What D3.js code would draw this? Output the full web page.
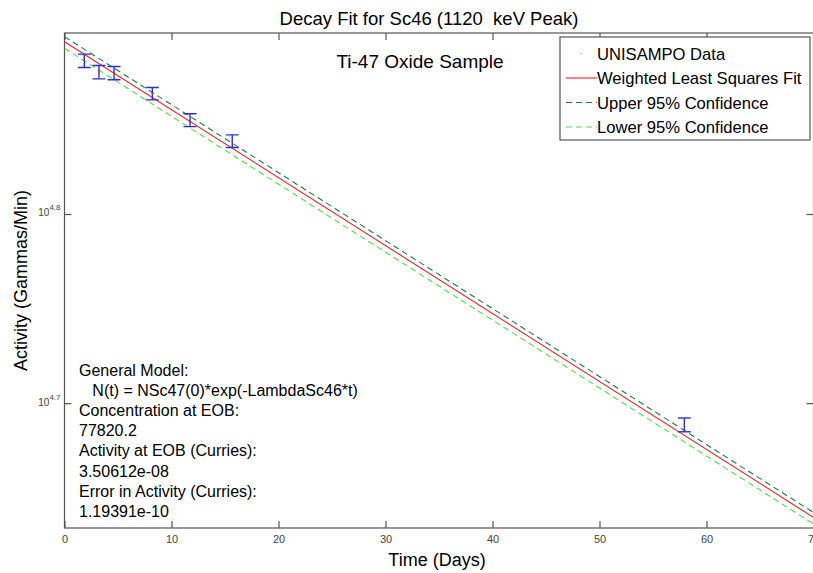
<!DOCTYPE html>
<html>
<head>
<meta charset="utf-8">
<script src="https://cdn.jsdelivr.net/npm/d3@7"></script>
<style>
  body { margin: 0; background: #fff; }
  svg text { font-family: "Liberation Sans", Arial, sans-serif; }
</style>
</head>
<body>
<svg id="chart"></svg>
<script>
//////////
// Data //
//////////
const timeDays = [1.85, 3.22, 4.63, 8.21, 11.73, 15.68, 57.93];
const activity = [76030, 74990, 74900, 73050, 70730, 68945, 48810];
const activityErr = [620, 610, 605, 550, 550, 535, 410];

// fit and 95% bounds, read at the ends of the time range
const fitTimes = [0, 70];
const fitValues = [77820, 43610];
const upperValues = [78300, 43870];
const lowerValues = [77205, 43265];

const xTicks = [0, 10, 20, 30, 40, 50, 60, 70];
const yTickExps = [4.7, 4.8];
const yLimits = [43050, 78650];

const legendLabels = [
  "UNISAMPO Data",
  "Weighted Least Squares Fit",
  "Upper 95% Confidence",
  "Lower 95% Confidence",
];
const noteLines = [
  "General Model:",
  "   N(t) = NSc47(0)*exp(-LambdaSc46*t)",
  "Concentration at EOB:",
  "77820.2",
  "Activity at EOB (Curries):",
  "3.50612e-08",
  "Error in Activity (Curries):",
  "1.19391e-10",
];

//////////////////////////
// Chart specifications //
//////////////////////////
const W = 813, H = 573;
const margin = { top: 33, right: -0.5, bottom: 45, left: 64.5 };

const colRed = "#e8232b",
  colDark = "#1f7a45",
  colLime = "#55dd4a",
  colBlue = "#2f2fcf",
  colAxis = "#555";

const svg = d3.select("#chart").attr("width", W).attr("height", H);

const x = d3
  .scaleLinear()
  .domain([0, 70])
  .range([margin.left, W - margin.right]);
const y = d3
  .scaleLog()
  .domain(yLimits)
  .range([H - margin.bottom, margin.top]);

const x0 = x.range()[0], x1 = x.range()[1];
const y0 = y.range()[0], y1 = y.range()[1];

// axes box
svg.append("rect")
  .attr("x", x0).attr("y", y1)
  .attr("width", x1 - x0).attr("height", y0 - y1)
  .attr("fill", "none").attr("stroke", colAxis).attr("stroke-width", 1.2);

// x ticks (bottom + top, pointing inward)
const xAxis = svg.append("g").attr("transform", `translate(0,${y0})`)
  .call(d3.axisBottom(x).tickValues(xTicks).tickSize(-7).tickPadding(7).tickFormat(d3.format("d")));
svg.append("g").attr("transform", `translate(0,${y1})`)
  .call(d3.axisTop(x).tickValues(xTicks).tickSize(-7).tickFormat(""))
  .call((g) => g.select(".domain").remove());

// y ticks (left + right, pointing inward)
const yTickVals = yTickExps.map((e) => Math.pow(10, e));
const yAxis = svg.append("g").attr("transform", `translate(${x0},0)`)
  .call(d3.axisLeft(y).tickValues(yTickVals).tickSize(-7).tickPadding(5).tickFormat(""));
svg.append("g").attr("transform", `translate(${x1},0)`)
  .call(d3.axisRight(y).tickValues(yTickVals).tickSize(-7).tickFormat(""))
  .call((g) => g.select(".domain").remove());

[xAxis, yAxis].forEach((g) => g.select(".domain").remove());
svg.selectAll(".tick line").attr("stroke", colAxis).attr("stroke-width", 1.2);
xAxis.selectAll(".tick text")
  .attr("font-size", 11).attr("fill", "#444")
  .attr("font-family", "Liberation Sans, Arial, sans-serif");

// y tick labels as 10^exp
yAxis.selectAll(".tick").each(function (d, i) {
  const t = d3.select(this).append("text")
    .attr("x", -4).attr("y", 2)
    .attr("text-anchor", "end")
    .attr("fill", "#444")
    .attr("font-size", 10);
  t.append("tspan").text("10");
  t.append("tspan").attr("dy", -6).attr("font-size", 8).text(yTickExps[i]);
});

// clip to plot area
svg.append("clipPath").attr("id", "plotClip")
  .append("rect").attr("x", x0).attr("y", y1)
  .attr("width", x1 - x0).attr("height", y0 - y1);
const plot = svg.append("g").attr("clip-path", "url(#plotClip)");

const line = d3.line().x((d) => x(d[0])).y((d) => y(d[1]));
const series = [
  { vals: upperValues, color: colDark, dash: "6,4" },
  { vals: lowerValues, color: colLime, dash: "6,4" },
  { vals: fitValues, color: colRed, dash: null },
];
series.forEach((s) => {
  plot.append("path")
    .datum(fitTimes.map((t, i) => [t, s.vals[i]]))
    .attr("d", line)
    .attr("fill", "none")
    .attr("stroke", s.color)
    .attr("stroke-width", 1.1)
    .attr("stroke-dasharray", s.dash);
});

// error bars
const capHalf = 6.5;
const bars = plot.append("g").attr("stroke", colBlue).attr("stroke-width", 1.4)
  .selectAll("g").data(timeDays).join("g");
bars.append("line")
  .attr("x1", (d) => x(d)).attr("x2", (d) => x(d))
  .attr("y1", (d, i) => y(activity[i] + activityErr[i]))
  .attr("y2", (d, i) => y(activity[i] - activityErr[i]));
bars.append("line")
  .attr("x1", (d) => x(d) - capHalf).attr("x2", (d) => x(d) + capHalf)
  .attr("y1", (d, i) => y(activity[i] + activityErr[i]))
  .attr("y2", (d, i) => y(activity[i] + activityErr[i]));
bars.append("line")
  .attr("x1", (d) => x(d) - capHalf).attr("x2", (d) => x(d) + capHalf)
  .attr("y1", (d, i) => y(activity[i] - activityErr[i]))
  .attr("y2", (d, i) => y(activity[i] - activityErr[i]));
plot.append("g").selectAll("circle").data(timeDays).join("circle")
  .attr("cx", (d) => x(d)).attr("cy", (d, i) => y(activity[i]))
  .attr("r", 0.8).attr("fill", colRed);

////////////
// Labels //
////////////
svg.append("text")
  .attr("x", (x0 + x1) / 2 - 10).attr("y", 25)
  .attr("text-anchor", "middle").attr("font-size", 18.5)
  .text("Decay Fit for Sc46 (1120  keV Peak)")
  .style("white-space", "pre");

svg.append("text")
  .attr("x", (x0 + x1) / 2 - 2).attr("y", 566)
  .attr("text-anchor", "middle").attr("font-size", 18)
  .text("Time (Days)");

svg.append("text")
  .attr("transform", `translate(27,${(y0 + y1) / 2}) rotate(-90)`)
  .attr("text-anchor", "middle").attr("font-size", 18)
  .text("Activity (Gammas/Min)");

svg.append("text")
  .attr("x", 420).attr("y", 68)
  .attr("text-anchor", "middle").attr("font-size", 19)
  .text("Ti-47 Oxide Sample");

// notes block
svg.append("g").selectAll("text").data(noteLines).join("text")
  .attr("x", 79).attr("y", (d, i) => 376 + i * 20.1)
  .attr("font-size", 16)
  .style("white-space", "pre")
  .text((d) => d);

////////////
// Legend //
////////////
const legend = svg.append("g");
legend.append("rect")
  .attr("x", 560).attr("y", 37).attr("width", 250).attr("height", 103)
  .attr("fill", "#fff").attr("stroke", colAxis).attr("stroke-width", 1.2);
const legendStyles = [
  { color: "#c99", dash: null, dot: true },
  { color: colRed, dash: null },
  { color: colDark, dash: "6,4" },
  { color: colLime, dash: "6,4" },
];
legendLabels.forEach((lab, i) => {
  const ly = 53.5 + i * 24.5;
  const st = legendStyles[i];
  if (st.dot) {
    legend.append("circle").attr("cx", 581).attr("cy", ly).attr("r", 0.8).attr("fill", st.color);
  } else {
    legend.append("line")
      .attr("x1", 566).attr("x2", 597).attr("y1", ly).attr("y2", ly)
      .attr("stroke", st.color).attr("stroke-width", 1.1)
      .attr("stroke-dasharray", st.dash);
  }
  legend.append("text").attr("x", 597).attr("y", ly + 6)
    .attr("font-size", 16.6).text(lab);
});
</script>
</body>
</html>
